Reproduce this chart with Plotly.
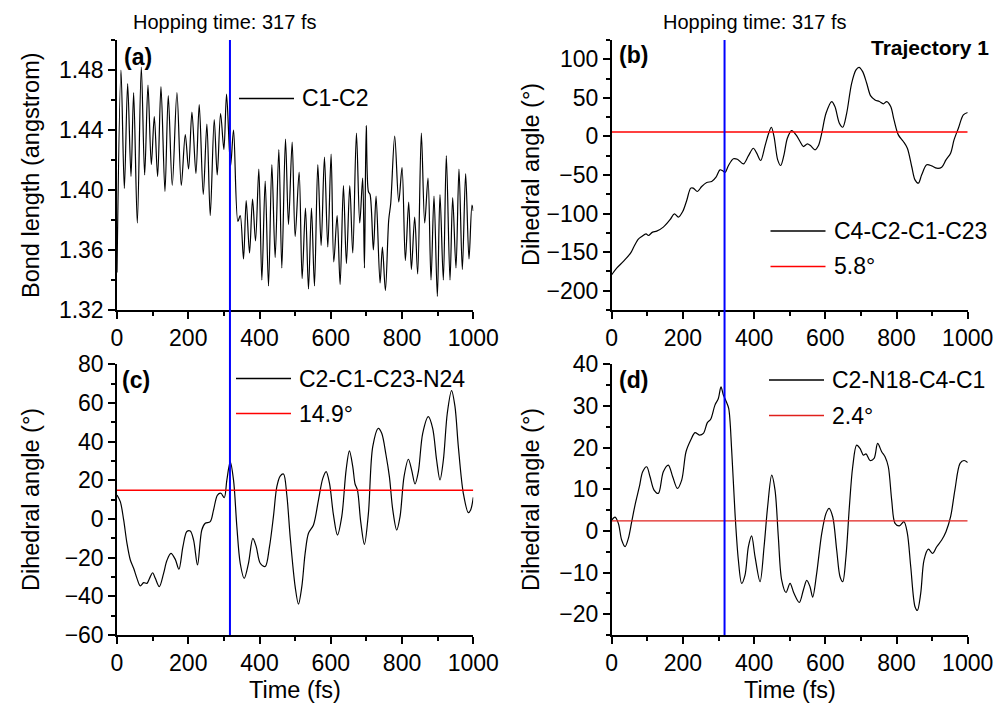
import plotly.graph_objects as go

# ---- data -------------------------------------------------------------
# (a) C1-C2 bond length (angstrom), extrema of the fast stretch oscillation
t_a = [0, 11.2, 20.6, 29.9, 39.3, 46.7, 57.0, 68.2, 77.6, 86.9, 96.3, 104.7, 114.0, 123.4,
       134.6, 143.9, 155.1, 168.2, 180.4, 191.6, 200.9, 210.3, 221.5, 230.8, 242.1, 252.3,
       261.7, 272.9, 281.3, 290.7, 300.0, 307.5, 318.7, 327.1, 339.3, 345.8, 355.1, 362.6,
       372.0, 380.4, 388.8, 398.1, 406.5, 415.9, 425.2, 434.6, 443.9, 454.2, 462.6, 472.9,
       481.3, 491.6, 500.0, 511.2, 519.6, 529.0, 537.4, 545.8, 554.2, 563.6, 572.9, 582.2,
       591.6, 600.9, 608.4, 617.8, 626.2, 635.5, 643.9, 653.3, 661.7, 672.0, 681.3, 689.5,
       694.5, 699.5, 705.6, 710.3, 719.6, 727.1, 738.3, 744.9, 753.3, 762.6, 768.2, 779.4,
       790.7, 800.0, 809.3, 818.7, 826.2, 835.5, 843.9, 854.2, 863.6, 872.9, 881.3, 889.7,
       899.1, 906.5, 915.9, 924.3, 934.6, 942.1, 951.4, 959.8, 969.2, 978.5, 987.9, 996.3, 1000]
bond_c1c2 = [1.345, 1.480, 1.401, 1.471, 1.409, 1.465, 1.378, 1.482, 1.410, 1.470, 1.417, 1.449,
             1.409, 1.469, 1.399, 1.463, 1.403, 1.465, 1.403, 1.437, 1.414, 1.452, 1.411, 1.457,
             1.397, 1.444, 1.383, 1.447, 1.410, 1.451, 1.427, 1.464, 1.416, 1.440, 1.379, 1.383,
             1.354, 1.393, 1.358, 1.394, 1.366, 1.414, 1.340, 1.406, 1.336, 1.417, 1.355, 1.427,
             1.348, 1.434, 1.377, 1.432, 1.369, 1.412, 1.341, 1.388, 1.334, 1.388, 1.336, 1.417,
             1.363, 1.422, 1.362, 1.424, 1.352, 1.383, 1.337, 1.403, 1.351, 1.403, 1.358, 1.438,
             1.378, 1.408, 1.348, 1.443, 1.399, 1.397, 1.360, 1.396, 1.338, 1.362, 1.333, 1.380,
             1.391, 1.436, 1.392, 1.415, 1.353, 1.392, 1.347, 1.382, 1.344, 1.438, 1.378, 1.408,
             1.340, 1.396, 1.329, 1.397, 1.340, 1.423, 1.340, 1.395, 1.348, 1.414, 1.347, 1.411,
             1.354, 1.390, 1.386]

# (b) C4-C2-C1-C23 dihedral angle (deg)
t_b = [0, 14, 32.8, 53.4, 62.7, 74.9, 84.3, 96.4, 103, 115, 126.4, 145, 163.9, 176, 187.3,
       199.4, 210.7, 222, 229, 240.6, 252.8, 266.9, 280.9, 293, 304, 311.8, 318.4, 327.7,
       341.8, 353, 369.9, 383.9, 397.9, 407.3, 418.5, 430.7, 441, 448.5, 456, 466.3, 474.7,
       484, 493.4, 505.6, 517.8, 529, 538.4, 549.6, 559, 571.2, 580.5, 590, 602, 618, 627,
       639.5, 649, 660, 674, 686.3, 694.8, 705, 716.3, 727.5, 739.7, 751.9, 763, 772.5,
       783.7, 793, 805.2, 819.3, 830.5, 842.7, 852, 861.4, 870.8, 884.8, 899, 913, 927, 939,
       952, 961.6, 973.8, 987.8, 1000]
dih_c4c2c1c23 = [-179.3, -170.7, -162, -151, -142.6, -133, -129.7, -126.2, -128.4, -124,
                 -122.8, -117.6, -108, -100.3, -104.6, -97.3, -83, -67, -67, -71.4, -64.9,
                 -59.7, -58.4, -52.8, -43.3, -44.6, -46.8, -38, -29, -29.5, -35.6, -25.2,
                 -15.3, -21.7, -31.2, -12.2, 4.2, 11.9, -0.2, -30.4, -37.7, -23.9, -2.3, 7.6,
                 2, -6.6, -13.1, -9.7, -12.2, -17.4, -12.2, 4.2, 30, 45.2, 38.7, 17.1, 11.9,
                 30, 68.9, 86.2, 89.6, 84, 68.9, 52.5, 47.3, 45.2, 42.2, 45.2, 38.7, 21.4, 2,
                 -6.6, -15.3, -39, -56.3, -60.6, -49.8, -36.8, -38.1, -41.2, -39.9, -30.4,
                 -21.7, -4.5, 10.6, 27.9, 31]

# (c) C2-C1-C23-N24 dihedral angle (deg)
t_c = [0, 9.3, 18.7, 28, 37.4, 46.7, 56, 65.4, 74.8, 84, 93.5, 100, 107.5, 118.7, 130.8,
       140, 151.4, 163.6, 173.8, 185, 196, 205.6, 215, 226, 238, 247.7, 261.7, 271, 282,
       291.6, 301, 308.4, 317.8, 327, 336.4, 345.8, 357, 369, 381.3, 390.7, 402, 416, 428,
       439, 448.6, 458, 467.3, 476.6, 486, 500, 509.3, 518.7, 528, 537.4, 551.4, 565.4,
       577.6, 587, 596.3, 607.5, 618.7, 630.8, 643, 652.3, 661.7, 668.2, 674.8, 684, 694.4,
       705.6, 717.8, 733.6, 743, 755, 764.5, 774, 785, 794.4, 805.6, 817.8, 827, 836.4,
       845.8, 858, 873.8, 886, 897, 906.5, 916, 927, 939, 948.6, 958, 972, 986, 992.5, 1000]
dih_c2c1c23n24 = [12.4, 9, -0.5, -12.6, -21.2, -25.5, -30.7, -34.6, -32.9, -33.3, -29.8,
                  -27.8, -30.7, -35, -28.1, -21.5, -17.8, -20.9, -26, -14.3, -6.5, -6.2,
                  -10.9, -23.8, -5.7, -2.2, -1.4, 4.7, 12.4, 13.3, 11, 20.2, 29.7, 20.2, -4,
                  -22.9, -30.7, -22.9, -10, -14.3, -22.9, -24.6, -14.3, 1.2, 16.7, 22.2,
                  23.3, 12.4, -9.1, -35, -44, -35, -17.8, -7.4, -3.1, 9.8, 21, 24.5, 18.5,
                  2.1, -8.3, 1.2, 25.3, 35.2, 27.1, 18.1, 15, -1.4, -13.1, 2.9, 37.4, 46.9,
                  44.3, 33.1, 21.9, 4.7, -5.7, 1.2, 21.9, 30.9, 25.3, 18.1, 24.5, 44.3, 52.9,
                  46.9, 30.5, 20.2, 30.5, 54.7, 66.4, 58.1, 37.4, 13.3, 3.3, 4.7, 11.2]

# (d) C2-N18-C4-C1 dihedral angle (deg)
t_d = [0, 9.4, 18.7, 28, 37.5, 46.8, 56.2, 65.5, 77.7, 87, 98.3, 107.7, 119, 131, 145, 159,
       171.3, 184.5, 196.6, 208.8, 222, 234, 246.3, 257.5, 268.7, 278, 290, 299.6, 307,
       313.7, 321, 328.6, 337, 346.4, 355.8, 365, 374.5, 384, 393, 402.6, 416.7, 428, 438,
       449.4, 458.8, 468, 477.5, 489.7, 501, 512, 527, 538.4, 547.8, 557, 564.6, 575.8, 590,
       602, 610.5, 620.8, 632, 641.4, 649, 658, 667.6, 677, 688, 697.5, 707, 714.4, 725.7,
       737, 747, 758.4, 767.8, 777, 786.5, 795.9, 808, 821, 830.5, 840, 852, 858.6, 868,
       877.3, 889.5, 901.7, 913, 927, 939, 952, 964, 978.5, 989.7, 1000]
dih_c2n18c4c1 = [2.6, 3.3, 1.8, -2.2, -3.8, -1.8, 2.2, 6.2, 10.6, 14.2, 15.4, 13, 9.8, 9,
                 14.2, 15.8, 13, 10.2, 12.2, 19, 21.8, 23.6, 23, 23.4, 26, 26.8, 30.2, 31.8,
                 34.6, 32.6, 31.2, 29.4, 19.4, 4.2, -7, -12.6, -10.6, -3.8, -1.2, -6.2, -12.2,
                 -3.8, 5.8, 13.4, 9.8, -1.4, -11.8, -14.8, -12.6, -15, -17.2, -14.2, -11.9,
                 -13.4, -15.9, -10.2, -0.6, 4.2, 5.4, 3.4, -4.6, -11, -12.2, -6.2, 5.8, 15.4,
                 20.6, 19.8, 18.2, 18.5, 16.9, 17.4, 21, 19, 17.8, 15.4, 7.4, 1.8, 1.2, 2.2,
                 -0.6, -8.6, -18.2, -19.1, -15, -7, -4.4, -5.4, -3.8, -2.2, -0.2, 3.4, 9.8,
                 16.2, 16.9, 16.4]

# average angles (deg) and hopping time (fs)
mean_b = 5.8
mean_c = 14.9
mean_d = 2.4
hop_time = 317

series_names = ["C1-C2", "C4-C2-C1-C23", "C2-C1-C23-N24", "C2-N18-C4-C1"]
panel_tags = ["(a)", "(b)", "(c)", "(d)"]

# ---- layout helpers ---------------------------------------------------
W, H = 997, 706
FONT = "Liberation Sans, Arial, sans-serif"


def px(x):
    return x / W


def py(y):
    return 1 - y / H


X_LEFT = [px(117), px(473.3)]
X_RIGHT = [px(611.7), px(967.7)]
Y_TOP = [py(310), py(40)]
Y_BOT = [py(635), py(364.3)]

fig = go.Figure()

line_kw = dict(color="black", width=1.2, shape="spline", smoothing=0.9)
fig.add_trace(go.Scatter(x=t_a, y=bond_c1c2, mode="lines", line=line_kw, xaxis="x", yaxis="y"))
fig.add_trace(go.Scatter(x=t_b, y=dih_c4c2c1c23, mode="lines", line=line_kw, xaxis="x2", yaxis="y2"))
fig.add_trace(go.Scatter(x=t_c, y=dih_c2c1c23n24, mode="lines", line=line_kw, xaxis="x3", yaxis="y3"))
fig.add_trace(go.Scatter(x=t_d, y=dih_c2n18c4c1, mode="lines", line=line_kw, xaxis="x4", yaxis="y4"))

# average-angle reference lines
red_kw = dict(color="#ff0000", width=1.4)
fig.add_trace(go.Scatter(x=[0, 1000], y=[mean_b, mean_b], mode="lines", line=red_kw, xaxis="x2", yaxis="y2"))
fig.add_trace(go.Scatter(x=[0, 1000], y=[mean_c, mean_c], mode="lines", line=red_kw, xaxis="x3", yaxis="y3"))
fig.add_trace(go.Scatter(x=[0, 1000], y=[mean_d, mean_d], mode="lines", line=dict(color="#e0201c", width=1.4),
                         xaxis="x4", yaxis="y4"))

tick_font = dict(family=FONT, size=23, color="black")


def xax(domain, anchor):
    return dict(domain=domain, anchor=anchor, range=[0, 1000], tick0=0, dtick=200,
                showline=True, linecolor="black", linewidth=1.5, ticks="outside",
                ticklen=7, tickwidth=1.5, tickcolor="black", showgrid=False, zeroline=False,
                minor=dict(ticks="outside", dtick=100, ticklen=4, tickwidth=1.5, tickcolor="black"),
                tickfont=tick_font, fixedrange=True, automargin=False)


def yax(domain, anchor, rng, dtick, minor, fmt=None):
    d = dict(domain=domain, anchor=anchor, range=rng, tick0=0, dtick=dtick,
             showline=True, linecolor="black", linewidth=1.5, ticks="outside",
             ticklen=7, tickwidth=1.5, tickcolor="black", showgrid=False, zeroline=False,
             minor=dict(ticks="outside", dtick=minor, ticklen=4, tickwidth=1.5, tickcolor="black"),
             tickfont=tick_font, fixedrange=True, automargin=False)
    if fmt:
        d["tickformat"] = fmt
    return d


fig.update_layout(
    width=W, height=H, autosize=False,
    margin=dict(l=0, r=0, t=0, b=0, pad=0, autoexpand=False),
    paper_bgcolor="white", plot_bgcolor="white",
    showlegend=False,
    xaxis=xax(X_LEFT, "y"),
    yaxis=yax(Y_TOP, "x", [1.32, 1.50], 0.04, 0.02, ".2f"),
    xaxis2=xax(X_RIGHT, "y2"),
    yaxis2=yax(Y_TOP, "x2", [-225, 125], 50, 25),
    xaxis3=xax(X_LEFT, "y3"),
    yaxis3=yax(Y_BOT, "x3", [-60, 80], 20, 10),
    xaxis4=xax(X_RIGHT, "y4"),
    yaxis4=yax(Y_BOT, "x4", [-25, 40], 10, 5),
)
fig.layout.yaxis.tick0 = 1.32

# hopping-time markers spanning both rows
shapes = []
for xr in ("x", "x2"):
    shapes.append(dict(type="line", xref=xr, yref="paper", x0=hop_time, x1=hop_time,
                       y0=Y_BOT[0], y1=Y_TOP[1], line=dict(color="#0000ff", width=2)))

annotations = []


def text(x, y, s, size=23, bold=False, xanchor="left", angle=0):
    annotations.append(dict(x=px(x), y=py(y), xref="paper", yref="paper", text=s,
                            showarrow=False, xanchor=xanchor, yanchor="middle",
                            textangle=angle,
                            font=dict(family=FONT, size=size, color="black",
                                      weight="bold" if bold else "normal")))


def legend_entry(x0, y, label, color):
    shapes.append(dict(type="line", xref="paper", yref="paper", x0=px(x0), x1=px(x0 + 55),
                       y0=py(y), y1=py(y), line=dict(color=color, width=1.3)))
    text(x0 + 61, y, label)


DEG = "\u00b0"
legend_entry(239, 98.5, series_names[0], "black")
legend_entry(770.5, 231, series_names[1], "black")
legend_entry(770.5, 266.5, f"{mean_b}{DEG}", "#ff0000")
legend_entry(236, 378.5, series_names[2], "black")
legend_entry(236, 413.5, f"{mean_c}{DEG}", "#ff0000")
legend_entry(769, 380, series_names[3], "black")
legend_entry(769, 415.5, f"{mean_d}{DEG}", "#e0201c")

# panel tags
text(122, 57, panel_tags[0], size=23, bold=True)
text(617, 55, panel_tags[1], size=23, bold=True)
text(120, 380, panel_tags[2], size=23, bold=True)
text(617, 380, panel_tags[3], size=23, bold=True)
text(991, 48, "Trajectory 1", size=21, bold=True, xanchor="right")

# hopping-time headers
text(224, 22, f"Hopping time: {hop_time} fs", size=20, xanchor="center")
text(754, 22, f"Hopping time: {hop_time} fs", size=20, xanchor="center")

# axis titles
text(31, 175, "Bond length (angstrom)", size=23.5, xanchor="center", angle=-90)
text(531, 175, f"Dihedral angle ({DEG})", size=23.5, xanchor="center", angle=-90)
text(31, 500, f"Dihedral angle ({DEG})", size=23.5, xanchor="center", angle=-90)
text(531, 500, f"Dihedral angle ({DEG})", size=23.5, xanchor="center", angle=-90)
text(295, 690, "Time (fs)", size=23.5, xanchor="center")
text(790, 690, "Time (fs)", size=23.5, xanchor="center")

fig.update_layout(shapes=shapes, annotations=annotations)

# page body without default margin so the 997x706 figure fills the window exactly
fig.write_html("out.html",
               post_script="document.body.style.margin='0';"
                           "document.documentElement.style.overflow='hidden';")
